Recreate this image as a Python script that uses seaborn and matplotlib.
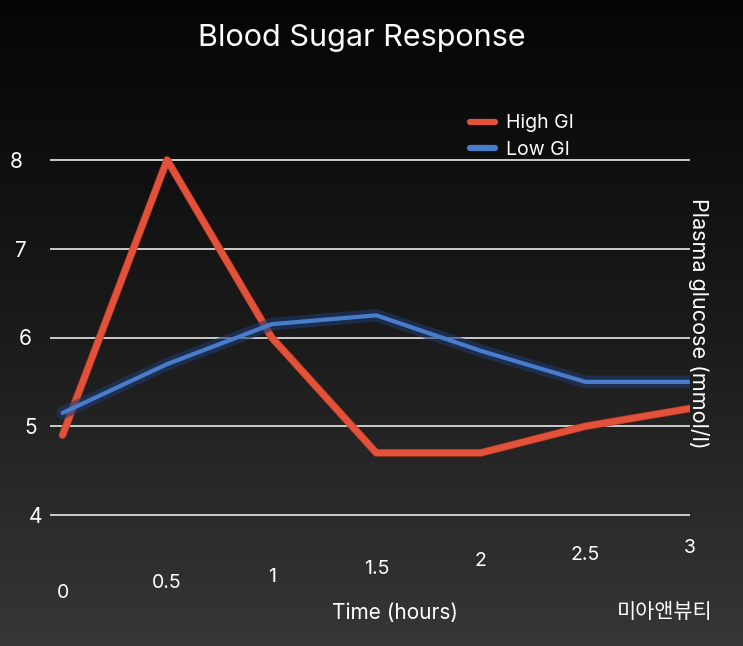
import numpy as np
import pandas as pd
import matplotlib
matplotlib.use("Agg")
import matplotlib.pyplot as plt
import matplotlib.patheffects as pe
import matplotlib.transforms as mtransforms
from matplotlib.colors import LinearSegmentedColormap
from matplotlib.lines import Line2D
import seaborn as sns

# ---- data ----
time_hours = [0, 0.5, 1, 1.5, 2, 2.5, 3]
high_gi = [4.9, 8.0, 6.0, 4.7, 4.7, 5.0, 5.2]
low_gi = [5.15, 5.7, 6.15, 6.25, 5.85, 5.5, 5.5]
series_names = ["High GI", "Low GI"]
y_ticks = [4, 5, 6, 7, 8]
x_tick_labels = ["0", "0.5", "1", "1.5", "2", "2.5", "3"]

df = pd.DataFrame({
    "Time": time_hours * 2,
    "Glucose": high_gi + low_gi,
    "Series": [series_names[0]] * len(high_gi) + [series_names[1]] * len(low_gi),
})

sns.set_theme(style="dark")
plt.rcParams["font.family"] = ["Inter", "Noto Sans CJK KR", "DejaVu Sans"]

W, H = 743, 646
fig = plt.figure(figsize=(W / 100, H / 100), dpi=100)

# background gradient
bg = fig.add_axes([0, 0, 1, 1], zorder=-10)
grad = np.linspace(0, 1, 256).reshape(-1, 1)
cmap = LinearSegmentedColormap.from_list("bg", ["#050505", "#1a1a1a", "#363636"])
bg.imshow(grad, aspect="auto", cmap=cmap, extent=[0, 1, 0, 1], origin="upper")
bg.set_axis_off()

# main axes: x=-0.06 at px 50, x=3 at px 690 ; y=8 at px 160, y=4 at px 515
x0, x1 = -0.06, 3.0
px_l, px_r = 50, 690
ylo, yhi = 3.8, 8.2
ppu = (515 - 160) / 4
px_top = 160 - (yhi - 8) * ppu
px_bot = 515 + (4 - ylo) * ppu
ax = fig.add_axes([px_l / W, 1 - px_bot / H, (px_r - px_l) / W, (px_bot - px_top) / H])
ax.set_facecolor("none")

palette = {"High GI": "#e2523a", "Low GI": "#4a7ccc"}

sns.lineplot(data=df, x="Time", y="Glucose", hue="Series", palette=palette,
             ax=ax, linewidth=4, legend=False, zorder=5)
lines = ax.get_lines()
lines[0].set_linewidth(4.5)
lines[0].set_path_effects([pe.Stroke(linewidth=5.5, foreground="#b8381f"), pe.Normal()])
lines[1].set_linewidth(3)
lines[1].set_path_effects([pe.Stroke(linewidth=9, foreground="#1e3a6e", alpha=0.6),
                           pe.Normal()])

ax.set_xlim(x0, x1)
ax.set_ylim(ylo, yhi)
ax.set_yticks(y_ticks)
ax.set_xticks(time_hours)
ax.set_xticklabels(x_tick_labels)
ax.grid(axis="y", color="#d8d8d8", linewidth=1.3)
ax.grid(axis="x", visible=False)
for s in ax.spines.values():
    s.set_visible(False)
ax.tick_params(axis="y", length=0, pad=20, labelsize=15, labelcolor="white")
ax.tick_params(axis="x", length=0, pad=32, labelsize=14, labelcolor="white")
ax.set_xlabel("Time (hours)", color="white", fontsize=15, va="center")
ax.xaxis.set_label_coords((395 - px_l) / (px_r - px_l), (px_bot - 613) / (px_bot - px_top))
ax.set_ylabel("")

# perspective-like stagger of tick labels (pixel offsets)
x_dy = [-7, 3, 9, 17, 25, 31, 38]
for lab, dy in zip(ax.get_xticklabels(), x_dy):
    lab.set_transform(lab.get_transform() + mtransforms.ScaledTranslation(0, dy / 100, fig.dpi_scale_trans))
y_dx = [20, 15, 10, 5, 0]
for lab, dx in zip(ax.get_yticklabels(), y_dx):
    lab.set_transform(lab.get_transform() + mtransforms.ScaledTranslation(dx / 100, 0, fig.dpi_scale_trans))

# right side y label
fig.text(698 / W, 1 - 323 / H, "Plasma glucose (mmol/l)", rotation=-90, color="white",
         fontsize=15.5, ha="center", va="center")

# title
fig.text(362 / W, 1 - 38 / H, "Blood Sugar Response", color="white", fontsize=22,
         ha="center", va="center")

# legend
handles = [Line2D([0], [0], color=palette[n], linewidth=4.5) for n in series_names]
leg = fig.legend(handles, series_names, loc="upper left",
                 bbox_to_anchor=(452 / W, 1 - 97 / H), frameon=False,
                 fontsize=14, labelcolor="white", handlelength=1.3,
                 handletextpad=0.6, labelspacing=0.45)

# watermark
fig.text(665 / W, 1 - 612 / H, "미아앤뷰티", color="white", fontsize=15,
         ha="center", va="center", family=["Noto Sans CJK KR", "DejaVu Sans"])

fig.savefig("out.png", dpi=100)
